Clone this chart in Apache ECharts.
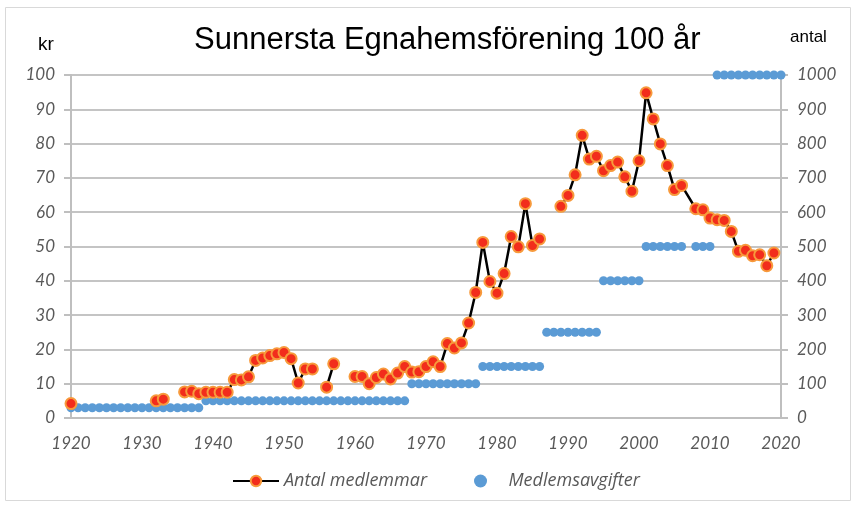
<!DOCTYPE html>
<html>
<head>
<meta charset="utf-8">
<title>Sunnersta Egnahemsförening 100 år</title>
<script src="https://cdn.jsdelivr.net/npm/echarts@6/dist/echarts.min.js"></script>
<style>
  html, body { margin: 0; padding: 0; background: #fff; }
  #chart { width: 857px; height: 507px; }
</style>
</head>
<body>
<div id="chart"></div>
<script>
// år (2007 saknas i underlaget)
var years = [
  1920, 1921, 1922, 1923, 1924, 1925, 1926, 1927, 1928, 1929,
  1930, 1931, 1932, 1933, 1934, 1935, 1936, 1937, 1938, 1939,
  1940, 1941, 1942, 1943, 1944, 1945, 1946, 1947, 1948, 1949,
  1950, 1951, 1952, 1953, 1954, 1955, 1956, 1957, 1958, 1959,
  1960, 1961, 1962, 1963, 1964, 1965, 1966, 1967, 1968, 1969,
  1970, 1971, 1972, 1973, 1974, 1975, 1976, 1977, 1978, 1979,
  1980, 1981, 1982, 1983, 1984, 1985, 1986, 1987, 1988, 1989,
  1990, 1991, 1992, 1993, 1994, 1995, 1996, 1997, 1998, 1999,
  2000, 2001, 2002, 2003, 2004, 2005, 2006, 2008, 2009,
  2010, 2011, 2012, 2013, 2014, 2015, 2016, 2017, 2018, 2019,
  2020
];

// antal medlemmar (höger axel), null = uppgift saknas
var antalMedlemmar = [
  42, null, null, null, null, null, null, null, null, null,
  null, null, 50, 55, null, null, 76, 78, 71, 75,
  75, 75, 75, 112, 111, 120, 168, 175, 182, 187,
  191, 173, 102, 143, 143, null, 90, 158, null, null,
  121, 121, 100, 118, 128, 114, 131, 150, 134, 135,
  150, 164, 150, 217, 204, 219, 277, 366, 512, 398,
  364, 421, 529, 499, 625, 503, 522, null, null, 617,
  649, 709, 824, 755, 763, 721, 736, 746, 703, 661,
  750, 948, 872, 799, 736, 666, 678, 610, 607,
  583, 578, 576, 544, 486, 489, 473, 476, 444, 481,
  null
];

// medlemsavgift i kr (vänster axel)
var medlemsavgifter = [
  3, 3, 3, 3, 3, 3, 3, 3, 3, 3,
  3, 3, 3, 3, 3, 3, 3, 3, 3, 5,
  5, 5, 5, 5, 5, 5, 5, 5, 5, 5,
  5, 5, 5, 5, 5, 5, 5, 5, 5, 5,
  5, 5, 5, 5, 5, 5, 5, 5, 10, 10,
  10, 10, 10, 10, 10, 10, 10, 10, 15, 15,
  15, 15, 15, 15, 15, 15, 15, 25, 25, 25,
  25, 25, 25, 25, 25, 40, 40, 40, 40, 40,
  40, 50, 50, 50, 50, 50, 50, 50, 50,
  50, 100, 100, 100, 100, 100, 100, 100, 100, 100,
  100
];

var chart = echarts.init(document.getElementById("chart"));

var labelFont = {
  color: "#595959",
  fontStyle: "italic",
  fontFamily: "Lato, 'Open Sans', sans-serif",
  fontSize: 17
};

function plain(v) {
  return String(v);
}

function pairs(values) {
  return years.map(function (y, i) {
    return [y, values[i] == null ? "-" : values[i]];
  });
}

chart.setOption({
  animation: false,
  title: {
    text: "Sunnersta Egnahemsförening 100 år",
    left: 189,
    top: 20,
    textStyle: {
      fontFamily: "'Liberation Sans', Arial, sans-serif",
      fontWeight: "normal",
      fontSize: 31,
      color: "#000"
    }
  },
  graphic: [
    {
      type: "rect",
      shape: { x: 5.5, y: 7.5, width: 845, height: 493 },
      style: { fill: "none", stroke: "#d9d9d9", lineWidth: 1 },
      silent: true
    },
    {
      type: "text",
      left: 38,
      top: 35,
      style: { text: "kr", font: "19px 'Liberation Sans', Arial, sans-serif", fill: "#000" }
    },
    {
      type: "text",
      left: 790,
      top: 29,
      style: { text: "antal", font: "17px 'Liberation Sans', Arial, sans-serif", fill: "#000" }
    }
  ],
  legend: {
    left: 232,
    top: 472,
    padding: 0,
    itemWidth: 46,
    itemHeight: 13,
    itemGap: 47,
    textStyle: Object.assign({}, labelFont, {
      fontFamily: "'Open Sans', Lato, sans-serif",
      fontSize: 18,
      width: 145
    }),
    data: ["Antal medlemmar", "Medlemsavgifter"]
  },
  grid: {
    left: 71,
    right: 76,
    top: 75,
    bottom: 89
  },
  xAxis: {
    type: "value",
    min: 1920,
    max: 2020,
    interval: 10,
    axisLine: { lineStyle: { color: "#bfbfbf", width: 2 } },
    axisTick: { show: false },
    splitLine: { show: false },
    axisLabel: Object.assign({ margin: 17, formatter: plain }, labelFont)
  },
  yAxis: [
    {
      type: "value",
      min: 0,
      max: 100,
      interval: 10,
      axisLine: { show: true, lineStyle: { color: "#bfbfbf", width: 2 } },
      axisTick: { show: true, length: 7, lineStyle: { color: "#bfbfbf", width: 2 } },
      splitLine: { lineStyle: { color: "#c4c4c4", width: 2 } },
      axisLabel: Object.assign({ margin: 16, formatter: plain }, labelFont)
    },
    {
      type: "value",
      min: 0,
      max: 1000,
      interval: 100,
      axisLine: { show: true, lineStyle: { color: "#bfbfbf", width: 2 } },
      axisTick: { show: true, length: 7, lineStyle: { color: "#bfbfbf", width: 2 } },
      splitLine: { show: false },
      axisLabel: Object.assign({ margin: 16, formatter: plain }, labelFont)
    }
  ],
  series: [
    {
      name: "Antal medlemmar",
      type: "line",
      yAxisIndex: 1,
      data: pairs(antalMedlemmar),
      symbol: "circle",
      symbolSize: 11,
      lineStyle: { color: "#000", width: 2.5 },
      itemStyle: { color: "#f22d1c", borderColor: "#f79a3c", borderWidth: 2 }
    },
    {
      name: "Medlemsavgifter",
      type: "scatter",
      yAxisIndex: 0,
      data: pairs(medlemsavgifter),
      symbol: "circle",
      symbolSize: 9,
      itemStyle: { color: "#5b9bd5", opacity: 1 }
    }
  ]
});
</script>
</body>
</html>
